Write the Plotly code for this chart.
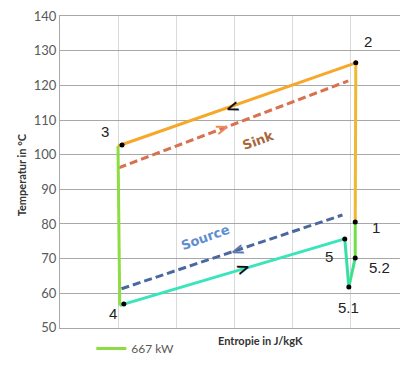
import plotly.graph_objects as go

# ---- data ----
# cycle path (entropy in gridline units, temperature in °C)
path_labels = ["3", "2", "1", "5.2", "5.1", "5", "4", "3"]
path_s = [1.00, 5.10, 5.09, 5.09, 4.98, 4.91, 1.03, 1.00]
path_T = [102.5, 126.5, 80.6, 70.2, 61.8, 75.7, 56.5, 102.5]

# state points (black dots)
point_names = ["3", "2", "1", "5.2", "5.1", "5", "4"]
point_s = [1.07, 5.10, 5.09, 5.09, 4.98, 4.91, 1.10]
point_T = [102.8, 126.5, 80.6, 70.2, 61.8, 75.7, 56.9]

# sink / source lines
sink_s = [1.01, 4.97]
sink_T = [96.2, 121.3]
source_s = [1.06, 4.87]
source_T = [61.3, 82.6]

# direction arrows (position, symbol)
arrow_s = [2.97, 3.16, 2.80, 3.05]
arrow_T = [113.9, 67.2, 107.6, 72.6]
arrow_txt = ["<", ">", ">", "<"]

y_ticks = [50, 60, 70, 80, 90, 100, 110, 120, 130, 140]
series_name = "667 kW"

# ---- styles ----
edge_colors = ["#f5a82a", "#f0b832", "#6ce044", "#3ee08a", "#34e0a8", "#3ae4bc", "#8edc44"]
arrow_colors = ["#111111", "#111111", "#f08a50", "#5a78b0"]
label_shift = {"3": (-17, 13), "2": (12, 21), "1": (21, -6), "5.2": (24, -10),
               "5.1": (0, -20), "5": (-16, -18), "4": (-11, -9)}

fig = go.Figure()

# sink and source dashed lines
fig.add_trace(go.Scatter(x=sink_s, y=sink_T, mode="lines", showlegend=False,
                         line=dict(color="#d9704e", width=3, dash="8px,4px")))
fig.add_trace(go.Scatter(x=source_s, y=source_T, mode="lines", showlegend=False,
                         line=dict(color="#4a68a0", width=3, dash="8px,4px")))

# cycle edges
for i in range(len(path_s) - 1):
    fig.add_trace(go.Scatter(
        x=path_s[i:i + 2], y=path_T[i:i + 2], mode="lines",
        line=dict(color=edge_colors[i], width=3),
        name=series_name, showlegend=(i == len(path_s) - 2),
        hoverinfo="skip"))

# state points
fig.add_trace(go.Scatter(x=point_s, y=point_T, mode="markers", showlegend=False,
                         marker=dict(color="black", size=5)))

annotations = []
for n, s, t in zip(point_names, point_s, point_T):
    dx, dy = label_shift[n]
    annotations.append(dict(x=s, y=t, text=n, showarrow=False, xshift=dx, yshift=dy,
                            font=dict(family="Liberation Sans", size=15, color="#222222")))

for s, t, txt, c in zip(arrow_s, arrow_T, arrow_txt, arrow_colors):
    annotations.append(dict(x=s, y=t, text="<b>%s</b>" % txt, showarrow=False, textangle=-19,
                            font=dict(family="DejaVu Sans", size=17, color=c)))

annotations.append(dict(x=3.41, y=104.2, text="<b>Sink</b>", showarrow=False, textangle=-20,
                        font=dict(family="DejaVu Sans", size=13, color="#a8683a")))
annotations.append(dict(x=2.50, y=76.2, text="<b>Source</b>", showarrow=False, textangle=-20,
                        font=dict(family="DejaVu Sans", size=13, color="#5f8ed0")))

annotations.append(dict(x=0.705, y=-0.066, xref="paper", yref="paper", text="<b>Entropie in J/kgK</b>",
                        showarrow=False, font=dict(family="Lato", size=11, color="#333333")))
annotations.append(dict(x=-0.136, y=0.49, xref="paper", yref="paper", text="<b>Temperatur in °C</b>",
                        showarrow=False, textangle=-90, font=dict(family="Lato", size=11, color="#333333")))

# page body has an 8px margin, so the figure is sized/offset to compensate
fig.update_layout(
    width=400, height=357,
    margin=dict(l=52, r=0, t=8, b=37, autoexpand=False),
    paper_bgcolor="white", plot_bgcolor="white",
    font=dict(family="Lato", color="#595959"),
    showlegend=True,
    legend=dict(orientation="h", x=0.09, y=-0.066, xanchor="left", yanchor="middle",
                font=dict(size=12, color="#595959"), itemwidth=30, bgcolor="rgba(0,0,0,0)"),
    xaxis=dict(range=[0, 6], dtick=1, tick0=0, showticklabels=False, showgrid=True, automargin=False,
               gridcolor="#d9d9d9", gridwidth=1.3, zeroline=False, showline=True, mirror=True,
               linecolor="#a8a8a8", linewidth=1.3, ticks=""),
    yaxis=dict(range=[49.98, 140.02], tickvals=y_ticks, showgrid=True, gridcolor="#a8a8a8", gridwidth=1.3,
               zeroline=False, showline=True, linecolor="#a8a8a8", linewidth=1.3, automargin=False,
               ticklabeloverflow="allow",
               tickfont=dict(size=13, color="#595959"), ticks="", ticklen=0),
    annotations=annotations,
)

fig.write_html("out.html")
